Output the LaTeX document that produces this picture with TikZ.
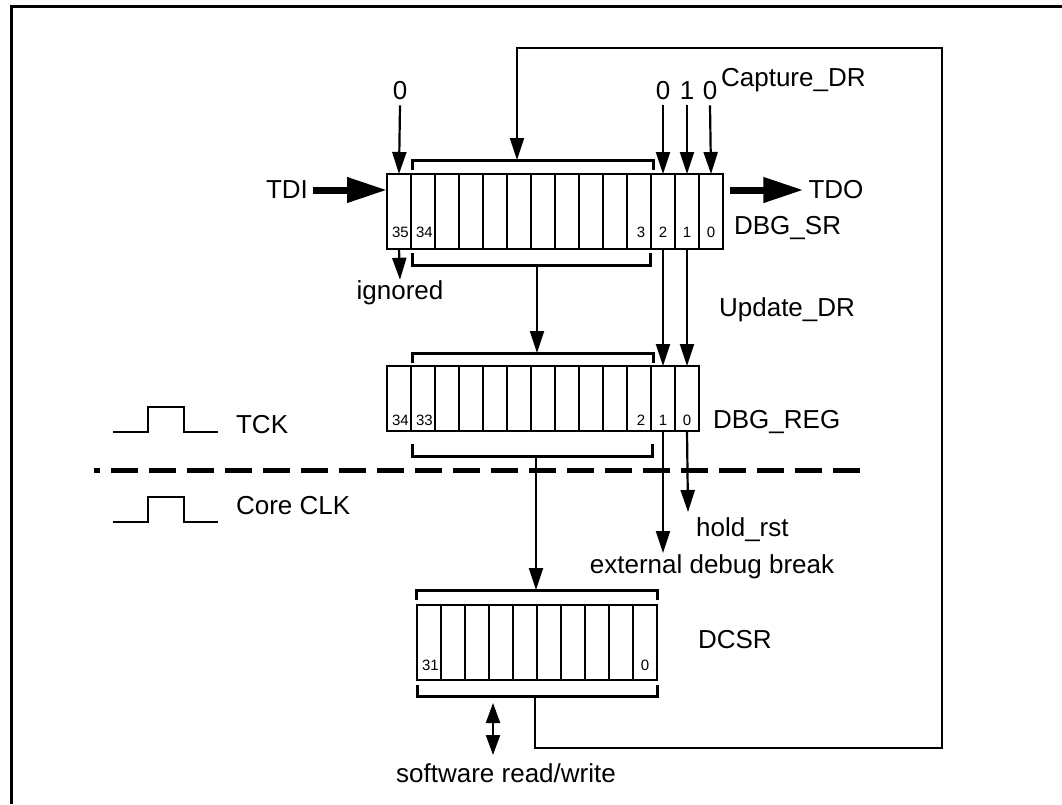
\documentclass[tikz,border=0pt]{standalone}
\usepackage{fontspec}
\setmainfont{Liberation Sans}
\usetikzlibrary{arrows.meta}
\begin{document}
\begin{tikzpicture}[x=1pt,y=-1pt,
  line width=2.2pt,
  cellbox/.style={draw,line width=2.2pt,minimum width=24pt,inner sep=0pt,outer sep=0pt,anchor=north west},
  arr/.style={-{Triangle[length=22pt,width=14pt]}},
  bigarr/.style={line width=7pt,-{Triangle[length=40pt,width=24pt]}},
  lbl/.style={font=\fontsize{26}{30}\selectfont,inner sep=0pt},
  bitlbl/.style={font=\fontsize{15}{18}\selectfont,inner sep=0pt,anchor=base}
]
\useasboundingbox (0,0) rectangle (1062,804);
% outer frame (clipped)
\draw[line width=3pt] (11,804) -- (11,6) -- (1062,6);

% DBG_SR: 14 cells
\foreach \i in {0,...,13}{
  \node[cellbox,minimum height=75pt] (sr\i) at (387+24*\i,174) {};
}
\node[bitlbl,anchor=base west] at (391,237) {35};
\node[bitlbl,anchor=base west] at (415,237) {34};
\node[bitlbl] at (641,237) {3};
\node[bitlbl] at (663,237) {2};
\node[bitlbl] at (687,237) {1};
\node[bitlbl] at (711,237) {0};

% DBG_REG: 13 cells
\foreach \i in {0,...,12}{
  \node[cellbox,minimum height=65pt] (reg\i) at (387+24*\i,366) {};
}
\node[bitlbl,anchor=base west] at (391,425) {34};
\node[bitlbl,anchor=base west] at (415,425) {33};
\node[bitlbl] at (641,425) {2};
\node[bitlbl] at (663,425) {1};
\node[bitlbl] at (687,425) {0};

% DCSR: 10 cells
\foreach \i in {0,...,9}{
  \node[cellbox,minimum height=75pt] (dc\i) at (417+24*\i,605) {};
}
\node[bitlbl,anchor=base west] at (421,670) {31};
\node[bitlbl] at (645,670) {0};

% brackets
\draw[line width=3pt] (412,170) -- (412,160) -- (653,160) -- (653,170);
\draw[line width=3pt] (412,253) -- (412,265) -- (650,265) -- (650,253);
\draw[line width=3pt] (412,363) -- (412,353) -- (653,353) -- (653,363);
\draw[line width=3pt] (412,444) -- (412,456) -- (652,456) -- (652,444);
\draw[line width=3pt] (416,600) -- (416,590) -- (657,590) -- (657,600);
\draw[line width=3pt] (417,685) -- (417,696) -- (657,696) -- (657,685);
\coordinate (srtop) at (517,160);
\coordinate (srbot) at (537,265);
\coordinate (regtop) at (537,353);
\coordinate (regbot) at (536,456);
\coordinate (dctop) at (536,590);
\coordinate (dcbot) at (535,696);

% labels
\node[lbl] (tdi) at (287,190) {TDI};
\node[lbl] (tdo) at (836,190) {TDO};
\node[lbl,anchor=west] (srname) at (733,228) {DBG\_SR};
\node[lbl,anchor=west] (regname) at (712,422) {DBG\_REG};
\node[lbl,anchor=west] (dcname) at (697,640) {DCSR};
\node[lbl,anchor=west] (cap) at (720,80) {Capture\_DR};
\node[lbl,anchor=west] (upd) at (718,310) {Update\_DR};
\node[lbl] (ign) at (400,293) {ignored};
\node[lbl,anchor=west] (hold) at (695,530) {hold\_rst};
\node[lbl] (ext) at (712,567) {external debug break};
\node[lbl] (sw) at (506,773) {software read/write};
\node[lbl,anchor=west] (tck) at (235,425) {TCK};
\node[lbl,anchor=west] (cclk) at (235,506) {Core CLK};
\node[lbl] (z35) at (400,91) {0};
\node[lbl] (z2) at (663,91) {0};
\node[lbl] (z1) at (687,91) {1};
\node[lbl] (z0) at (710,91) {0};

% input constants
\draw[arr] ([yshift=-4pt]z35.south) -- (sr0.north);
\draw[arr] ([yshift=-4pt]z2.south) -- (sr11.north);
\draw[arr] ([yshift=-4pt]z1.south) -- (sr12.north);
\draw[arr] ([yshift=-4pt]z0.south) -- (sr13.north);

% TDI / TDO
\draw[bigarr] ([xshift=4pt]tdi.east) -- ([yshift=-16pt]sr0.north west);
\draw[bigarr] ([xshift=7pt,yshift=-16pt]sr13.north east) -- ([xshift=-4pt]tdo.west);

% ignored
\draw[arr] (sr0.south) -- (ign.north);

% SR -> REG
\draw[arr] (srbot) -- (regtop);
\draw[arr] (sr11.south) -- (reg11.north);
\draw[arr] (sr12.south) -- (reg12.north);

% REG -> outputs
\draw[arr] (regbot) -- (dctop);
\coordinate (extend) at (663,553);
\coordinate (holdend) at (688,512);
\draw[arr] (reg11.south) -- (extend);
\draw[arr] (reg12.south) -- (holdend);

% Capture loop
\draw[arr] (dcbot) -- (535,748) -- (942,748) -- (942,48) -- (517,48) -- (srtop);

% software read/write
\coordinate (swtop) at (493,703);
\coordinate (swbot) at (493,755);
\draw[{Triangle[length=20pt,width=14pt]}-{Triangle[length=20pt,width=14pt]}] (swtop) -- (swbot);

% clocks
\draw (113,432) -- (148,432) -- (148,407) -- (184,407) -- (184,432) -- (218,432);
\draw (113,522) -- (148,522) -- (148,497) -- (184,497) -- (184,522) -- (218,522);

% dashed separator
\draw[line width=5pt,dash pattern=on 27pt off 11pt,dash phase=21pt] (94,470) -- (860,470);
\end{tikzpicture}
\end{document}
